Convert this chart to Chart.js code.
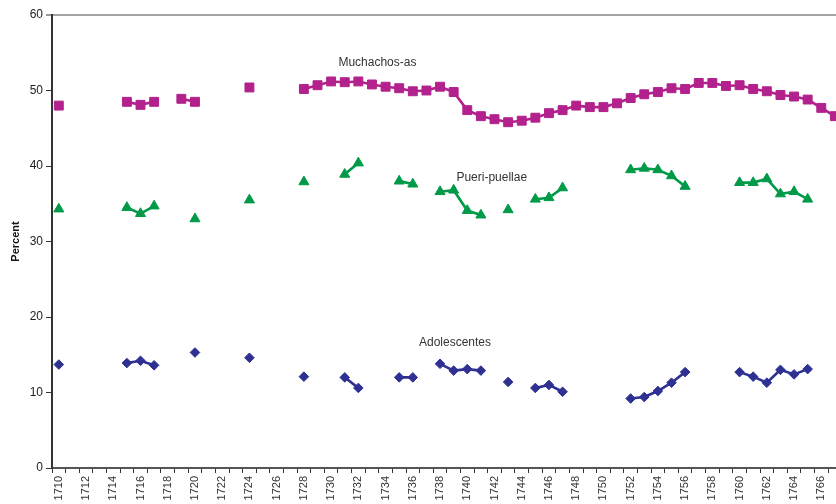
<!DOCTYPE html>
<html>
<head>
<meta charset="utf-8">
<script src="https://cdn.jsdelivr.net/npm/chart.js@4.4.1/dist/chart.umd.min.js"></script>
<style>
  html, body { margin: 0; padding: 0; overflow: hidden; background: #ffffff; }
  #wrap { width: 849px; height: 504px; }
</style>
</head>
<body>
<div id="wrap"><canvas id="c" width="849" height="504"></canvas></div>
<script>
// Years on the category axis
const years = [
  1710, 1711, 1712, 1713, 1714, 1715, 1716, 1717, 1718, 1719,
  1720, 1721, 1722, 1723, 1724, 1725, 1726, 1727, 1728, 1729,
  1730, 1731, 1732, 1733, 1734, 1735, 1736, 1737, 1738, 1739,
  1740, 1741, 1742, 1743, 1744, 1745, 1746, 1747, 1748, 1749,
  1750, 1751, 1752, 1753, 1754, 1755, 1756, 1757, 1758, 1759,
  1760, 1761, 1762, 1763, 1764, 1765, 1766, 1767
];

// Percent by year (null = no record for that year)
const muchachos = [
  48.0, null, null, null, null, 48.5, 48.1, 48.5, null, 48.9,
  48.5, null, null, null, 50.4, null, null, null, 50.2, 50.7,
  51.2, 51.1, 51.2, 50.8, 50.5, 50.3, 49.9, 50.0, 50.5, 49.8,
  47.4, 46.6, 46.2, 45.8, 46.0, 46.4, 47.0, 47.4, 48.0, 47.8,
  47.8, 48.3, 49.0, 49.5, 49.8, 50.3, 50.2, 51.0, 51.0, 50.6,
  50.7, 50.2, 49.9, 49.4, 49.2, 48.8, 47.7, 46.6
];

const pueri = [
  34.3, null, null, null, null, 34.5, 33.7, 34.7, null, null,
  33.0, null, null, null, 35.5, null, null, null, 37.9, null,
  null, 38.9, 40.4, null, null, 38.0, 37.6, null, 36.6, 36.8,
  34.1, 33.5, null, 34.2, null, 35.6, 35.8, 37.1, null, null,
  null, null, 39.5, 39.7, 39.5, 38.7, 37.3, null, null, null,
  37.8, 37.8, 38.3, 36.3, 36.6, 35.6, null, null
];

const adolescentes = [
  13.7, null, null, null, null, 13.9, 14.2, 13.6, null, null,
  15.3, null, null, null, 14.6, null, null, null, 12.1, null,
  null, 12.0, 10.6, null, null, 12.0, 12.0, null, 13.8, 12.9,
  13.1, 12.9, null, 11.4, null, 10.6, 11.0, 10.1, null, null,
  null, null, 9.2, 9.4, 10.2, 11.3, 12.7, null, null, null,
  12.7, 12.1, 11.3, 13.0, 12.4, 13.1, null, null
];

const yTicks = [0, 10, 20, 30, 40, 50, 60];
const seriesNames = ['Muchachos-as', 'Pueri-puellae', 'Adolescentes'];

// Where each series name sits, in axis units (year, percent)
const nameAnchors = [
  { year: 1733.4, value: 53.7 },
  { year: 1741.8, value: 38.5 },
  { year: 1739.1, value: 16.6 }
];

const FONT = "'Liberation Sans', Arial, Helvetica, sans-serif";
Chart.defaults.font.family = FONT;

const colors = ['#b3218d', '#009a48', '#2e3192'];
const shapes = ['rect', 'triangle', 'rectRot'];
const radii = [6.3, 5.8, 4.8];

const seriesNameLabels = {
  id: 'seriesNameLabels',
  afterDatasetsDraw(chart) {
    const { ctx, scales: { x, y } } = chart;
    ctx.save();
    ctx.font = '12px ' + FONT;
    ctx.fillStyle = '#333333';
    ctx.textAlign = 'center';
    ctx.textBaseline = 'middle';
    seriesNames.forEach((name, i) => {
      const a = nameAnchors[i];
      const px = x.getPixelForValue(a.year - years[0]);
      const py = y.getPixelForValue(a.value);
      ctx.fillText(name, px, py);
    });
    ctx.restore();
  }
};

const seriesData = [muchachos, pueri, adolescentes];

new Chart(document.getElementById('c'), {
  type: 'line',
  data: {
    labels: years.map(String),
    datasets: seriesData.map((d, i) => ({
      label: seriesNames[i],
      data: d,
      borderColor: colors[i],
      backgroundColor: colors[i],
      borderWidth: 2.6,
      pointStyle: shapes[i],
      pointRadius: radii[i],
      pointBorderWidth: 1,
      pointBorderColor: colors[i],
      pointBackgroundColor: colors[i],
      spanGaps: false,
      tension: 0,
      clip: false
    }))
  },
  options: {
    responsive: false,
    animation: false,
    devicePixelRatio: 1,
    layout: { padding: { top: 15, left: 0, right: 0, bottom: 0 } },
    plugins: {
      legend: { display: false },
      tooltip: { enabled: false }
    },
    scales: {
      x: {
        type: 'category',
        offset: true,
        grid: {
          offset: true,
          drawOnChartArea: false,
          drawTicks: true,
          tickLength: 5,
          tickColor: '#333333',
          tickWidth: 1
        },
        border: { display: true, color: '#555555', width: 2 },
        ticks: {
          autoSkip: false,
          minRotation: 90,
          maxRotation: 90,
          padding: 3,
          color: '#333333',
          font: { size: 11, family: FONT },
          callback: function (value, index) {
            const yr = years[index];
            return yr % 2 === 0 ? String(yr) : '';
          }
        },
        afterFit(scale) {
          scale.height = 36;
          scale.paddingLeft = 0;
          scale.paddingRight = 0;
        }
      },
      y: {
        min: 0,
        max: 60,
        afterBuildTicks(scale) {
          scale.ticks = yTicks.map(v => ({ value: v }));
        },
        grid: {
          drawOnChartArea: true,
          drawTicks: true,
          tickLength: 6,
          tickColor: '#333333',
          tickWidth: 1,
          color: ctx => (ctx.tick && ctx.tick.value === 60) ? '#a3a3a3' : 'rgba(0,0,0,0)',
          lineWidth: ctx => (ctx.tick && ctx.tick.value === 60) ? 2 : 1
        },
        border: { display: true, color: '#333333', width: 2 },
        ticks: {
          padding: 3,
          color: '#222222',
          font: { size: 12, family: FONT }
        },
        title: {
          display: true,
          text: 'Percent',
          color: '#111111',
          font: { size: 11, weight: 'bold', family: FONT },
          padding: { top: 9, bottom: 0 }
        },
        afterFit(scale) {
          scale.width = 52;
          scale.paddingTop = 0;
          scale.paddingBottom = 0;
        }
      }
    }
  },
  plugins: [seriesNameLabels]
});
</script>
</body>
</html>
